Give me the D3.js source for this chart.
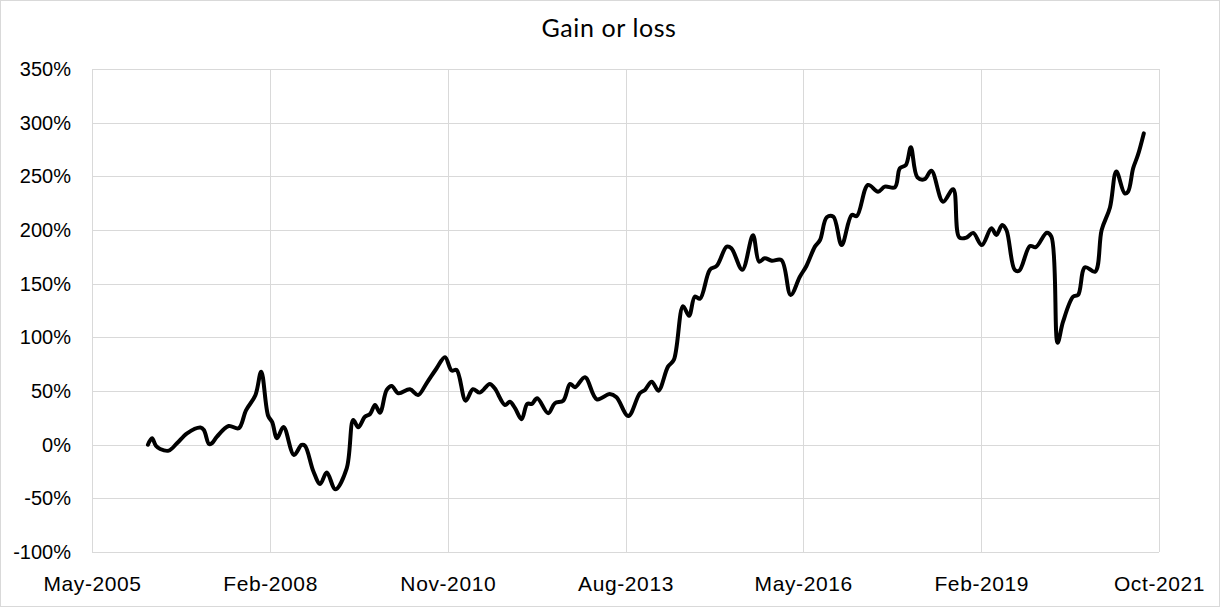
<!DOCTYPE html>
<html>
<head>
<meta charset="utf-8">
<script src="https://cdn.jsdelivr.net/npm/d3@7"></script>
<style>
  body { margin: 0; background: #fff; }
  svg { display: block; font-family: Lato, "Noto Sans", sans-serif; }
  .grid line { stroke: #d9d9d9; stroke-width: 1; }
  .axis text { fill: #000; font-size: 20px; }
  .x-axis text { font-size: 21px; letter-spacing: 0.6px; }
</style>
</head>
<body>
<div id="chart"></div>
<script>
// readings
const dates = [
  "2006-03-13","2006-04-05","2006-04-27","2006-05-21","2006-07-08","2006-08-24","2006-10-20",
  "2007-01-04","2007-01-23","2007-02-21","2007-03-09","2007-04-07","2007-06-12","2007-08-08",
  "2007-09-18","2007-11-10","2007-12-13","2008-01-21","2008-02-13","2008-03-11","2008-04-17",
  "2008-06-15","2008-07-28","2008-08-16","2008-10-03","2008-11-10","2008-12-17","2009-02-04",
  "2009-04-09","2009-05-16","2009-06-13","2009-07-21","2009-08-19","2009-09-16","2009-10-14",
  "2009-11-21","2009-12-19","2010-01-26","2010-04-01","2010-05-17","2010-07-04","2010-08-30",
  "2010-10-16","2010-11-23","2010-12-21","2011-02-10","2011-03-23","2011-05-01","2011-06-26",
  "2011-07-24","2011-09-20","2011-10-18","2011-11-16","2011-12-23","2012-01-24","2012-02-19",
  "2012-03-20","2012-05-21","2012-06-28","2012-08-14","2012-09-22","2012-10-20","2012-12-15",
  "2013-02-20","2013-05-04","2013-06-11","2013-08-17","2013-10-21","2013-11-19","2013-12-27",
  "2014-02-03","2014-03-29","2014-05-01","2014-06-22","2014-07-26","2014-08-28","2014-09-26",
  "2014-11-21","2014-12-29","2015-02-24","2015-03-22","2015-05-23","2015-07-22","2015-08-26",
  "2015-09-27","2015-11-05","2015-12-30","2016-02-20","2016-04-12","2016-05-19","2016-07-06",
  "2016-08-04","2016-09-11","2016-10-18","2016-12-04","2017-01-30","2017-02-28","2017-05-02",
  "2017-06-28","2017-08-05","2017-10-01","2017-10-29","2017-12-02","2017-12-30","2018-02-05",
  "2018-03-18","2018-04-25","2018-06-30","2018-08-26","2018-09-30","2018-11-10","2018-12-17",
  "2019-02-04","2019-03-30","2019-04-27","2019-05-30","2019-06-23","2019-08-09","2019-09-03",
  "2019-11-03","2019-12-06","2020-02-06","2020-03-03","2020-04-07","2020-05-08","2020-07-04",
  "2020-08-01","2020-09-09","2020-11-05","2020-12-12","2021-01-28","2021-03-05","2021-04-21",
  "2021-05-10","2021-06-08","2021-07-05","2021-08-07"
];

// gain or loss in percent
const gain = [
  0, 6, -1, -4, -5.6, 1.3, 10.6,
  16, 13.7, 0.6, 1.3, 7.5, 17.4, 15.3,
  32, 46, 68, 27, 21, 6, 16.5,
  -9.6, -0.3, -1, -25, -36.6, -26, -41.5,
  -22, 23, 16.2, 26, 28.6, 37, 29.8,
  51, 54.7, 47.9, 51.6, 46.3, 57.2, 71.2,
  81.5, 69, 69.6, 41, 51.6, 48.5, 56.6,
  52.5, 37, 40, 34, 23.7, 38, 38,
  43.2, 29.3, 38.6, 41, 56.6, 53.5, 62.8,
  42.3, 47.2, 44.2, 26.7, 47.9, 51, 58.7,
  50.3, 72.7, 78.9, 129, 120, 138, 136,
  163, 166.5, 184.5, 183, 163, 195, 170.5,
  173.7, 171.4, 172, 139.5, 156.5, 166.5, 184.5,
  190.7, 211.9, 212.4, 186, 214, 213, 242,
  235.7, 240.4, 239.8, 257.5, 260.6, 277, 249,
  247.3, 255.3, 226.4, 238, 193, 193, 197.3,
  186, 201.6, 195.4, 204.7, 200, 162.8, 162,
  185, 184, 197.5, 193.8, 95, 114.6, 137.9,
  139.5, 165.3, 161.2, 200, 221, 254.4, 234.2,
  235.7, 257.5, 269.9, 290
];

const xTickLabels = ["May-2005", "Feb-2008", "Nov-2010", "Aug-2013", "May-2016", "Feb-2019", "Oct-2021"];
const yTicks = [-100, -50, 0, 50, 100, 150, 200, 250, 300, 350];
const title = "Gain or loss";

const W = 1220, H = 607;
const margin = {top: 69, right: 61, bottom: 55, left: 92},
    width = W - margin.left - margin.right,
    height = H - margin.top - margin.bottom;

const parse = d3.timeParse("%Y-%m-%d");
const data = dates.map((d, i) => ({date: parse(d), value: gain[i]}));

const svg = d3.select("#chart")
    .append("svg")
        .attr("width", W)
        .attr("height", H);

svg.append("rect")
    .attr("x", 0.5).attr("y", 0.5)
    .attr("width", W - 1).attr("height", H - 1)
    .attr("fill", "#fff")
    .attr("stroke", "#d9d9d9");

svg.append("text")
    .attr("x", W / 2 - 1)
    .attr("y", 37)
    .attr("text-anchor", "middle")
    .style("font-size", "25px")
    .style("letter-spacing", "0.6px")
    .text(title);

const g = svg.append("g")
    .attr("transform", "translate(" + margin.left + "," + margin.top + ")");

// excel axis: major unit every 33 months from the start
const start = new Date(2005, 4, 1);
const xTickDates = xTickLabels.map((_, i) => d3.timeMonth.offset(start, 33 * i));

const x = d3.scaleTime()
    .domain([start, xTickDates[xTickDates.length - 1]])
    .range([0, width]);

const y = d3.scaleLinear()
    .domain([-100, 350])
    .range([height, 0]);

// gridlines
g.append("g")
    .attr("class", "grid")
    .selectAll("line.h")
    .data(yTicks)
    .enter()
    .append("line")
        .attr("x1", 0).attr("x2", width)
        .attr("y1", d => Math.round(y(d)) + 0.5)
        .attr("y2", d => Math.round(y(d)) + 0.5);

g.append("g")
    .attr("class", "grid")
    .selectAll("line.v")
    .data(xTickDates)
    .enter()
    .append("line")
        .attr("y1", 0).attr("y2", height)
        .attr("x1", d => Math.round(x(d)) + 0.5)
        .attr("x2", d => Math.round(x(d)) + 0.5);

const yAxis = d3.axisLeft(y)
    .tickValues(yTicks)
    .tickSize(0)
    .tickPadding(21)
    .tickFormat(d => d + "%");

const xAxis = d3.axisBottom(x)
    .tickValues(xTickDates)
    .tickSize(0)
    .tickPadding(24)
    .tickFormat((d, i) => xTickLabels[i]);

g.append("g")
    .attr("class", "axis y-axis")
    .call(yAxis)
    .call(s => s.select(".domain").remove());

g.append("g")
    .attr("class", "axis x-axis")
    .attr("transform", "translate(0," + height + ")")
    .call(xAxis)
    .call(s => s.select(".domain").remove());

const line = d3.line()
    .x(d => x(d.date))
    .y(d => y(d.value))
    .curve(d3.curveCatmullRom.alpha(0.5));

g.append("path")
    .datum(data)
    .attr("fill", "none")
    .attr("stroke", "#000")
    .attr("stroke-width", 4)
    .attr("stroke-linejoin", "round")
    .attr("stroke-linecap", "round")
    .attr("d", line);
</script>
</body>
</html>
